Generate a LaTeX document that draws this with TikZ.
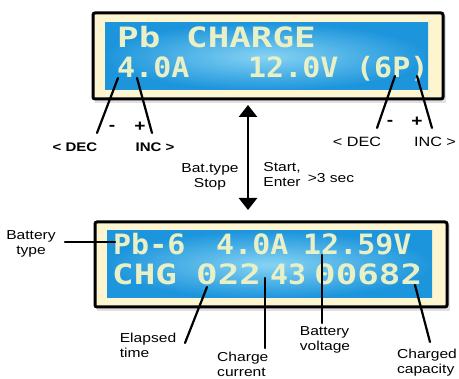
\documentclass[tikz,border=0pt]{standalone}
\usepackage{fontspec}
\setmainfont{Liberation Sans}[FakeStretch=1.2]
\newfontfamily\lcdfont{DejaVu Sans Mono}[FakeStretch=1.07]
\newfontfamily\lcdwide{DejaVu Sans Mono}[FakeStretch=1.28]
\usetikzlibrary{arrows.meta}
\definecolor{lcdcream}{HTML}{FCF5CF}
\definecolor{lcdblue}{HTML}{1D95DC}
\definecolor{lcdlight}{HTML}{86D3F3}
\definecolor{lcdtext}{HTML}{E9F0C6}

\begin{document}
\begin{tikzpicture}[x=1pt, y=-1pt, every node/.style={font=\fontsize{13}{15}\selectfont, inner sep=0pt},
	lcd/.style={anchor=base west, text=lcdtext, font=\lcdfont\bfseries\fontsize{28}{28}\selectfont},
	lcdw/.style={lcd, font=\lcdwide\bfseries\fontsize{28}{28}\selectfont},
	lbl/.style={align=center},
	lbll/.style={align=left},
	bold/.style={font=\bfseries\fontsize{12.5}{14}\selectfont},
	sign/.style={font=\bfseries\fontsize{16}{16}\selectfont},
	lead/.style={line width=2.2pt, line cap=round},
	lcdframe/.style={draw=black, line width=3pt, fill=lcdcream, rounded corners=2pt},
	screen/.style={inner color=lcdlight, outer color=lcdblue}]
	\useasboundingbox (0,0) rectangle (459,379);
	% displays
	\fill[black!12] (95,16) rectangle (446,103);
	\draw[lcdframe] (93,13) rectangle (443,99);
	\path[screen] (105,23) rectangle (428,90);
	\fill[black!12] (97,225) rectangle (450,311);
	\draw[lcdframe] (95,222) rectangle (447,307);
	\path[screen] (107,231) rectangle (432,298);
	% top display text
	\node[lcdw] (tPb) at (117,48) {Pb};
	\node[lcdw] (tChg) at (186,48) {CHARGE};
	\node[lcd] (tAmp) at (117,78) {4.0A};
	\node[lcd] (tVolt) at (248,78) {12.0V};
	\node[lcd] (tCell) at (356,78) {(6P)};
	% bottom display text
	\node[lcd] (bPb) at (113,255) {Pb-6};
	\node[lcd] (bAmp) at (216,255) {4.0A};
	\node[lcd] (bVolt) at (303,255) {12.59V};
	\node[lcdw] (bChg) at (112,285) {CHG};
	\node[lcdw] (bTime) at (196,285) {022};
	\node[lcd] (bCur) at (270,285) {43};
	\node[lcdw] (bCap) at (314,285) {00682};
	% labels
	\node[bold] (decL) at (75,147) {< DEC};
	\node[bold] (incL) at (155,147) {INC >};
	\node[sign] (minL) at (112,128) {-};
	\node[sign] (plusL) at (140,127) {+};
	\node[font=\fontsize{13.5}{15}\selectfont] (decR) at (357,142) {< DEC};
	\node[font=\fontsize{13.5}{15}\selectfont] (incR) at (435,142) {INC >};
	\node[sign] (minR) at (390,123) {-};
	\node[sign] (plusR) at (417,122) {+};
	\node[lbl] (bat) at (210,177) {Bat.type\\Stop};
	\node[lbll] (start) at (282,175) {Start,\\Enter};
	\node (sec) at (331,178) {>3 sec};
	\node[lbl] (btype) at (31,244) {Battery\\type};
	\node[lbll] (elap) at (148,345) {Elapsed\\time};
	\node[lbll, anchor=north west] (ccur) at (217,352) {Charge\\current};
	\node[lbll] (bvolt) at (325,340) {Battery\\voltage};
	\node[lbll] (ccap) at (427,363) {Charged\\capacity};
	% leader lines
	\coordinate (a1) at (118,78); \coordinate (b1) at (97,133);
	\coordinate (a2) at (137,78); \coordinate (b2) at (152,133);
	\coordinate (a3) at (395,76); \coordinate (b3) at (377,128);
	\coordinate (a4) at (417,76); \coordinate (b4) at (432,128);
	\coordinate (a5) at (115,242); \coordinate (b5) at (65,242);
	\coordinate (a6) at (207,287); \coordinate (b6) at (185,343);
	\coordinate (a7) at (265,278); \coordinate (b7) at (265,348);
	\coordinate (a8) at (322,255); \coordinate (b8) at (322,323);
	\coordinate (a9) at (415,285); \coordinate (b9) at (430,342);
	\foreach \i in {1,...,9} {\draw[lead] (a\i) -- (b\i);}
	% mode arrow
	\coordinate (arT) at (248,105);
	\coordinate (arB) at (248,210);
	\draw[line width=2.6pt, {Triangle[width=18pt,length=12pt]}-{Triangle[width=18pt,length=12pt]}] (arT) -- (arB);
\end{tikzpicture}
\end{document}
